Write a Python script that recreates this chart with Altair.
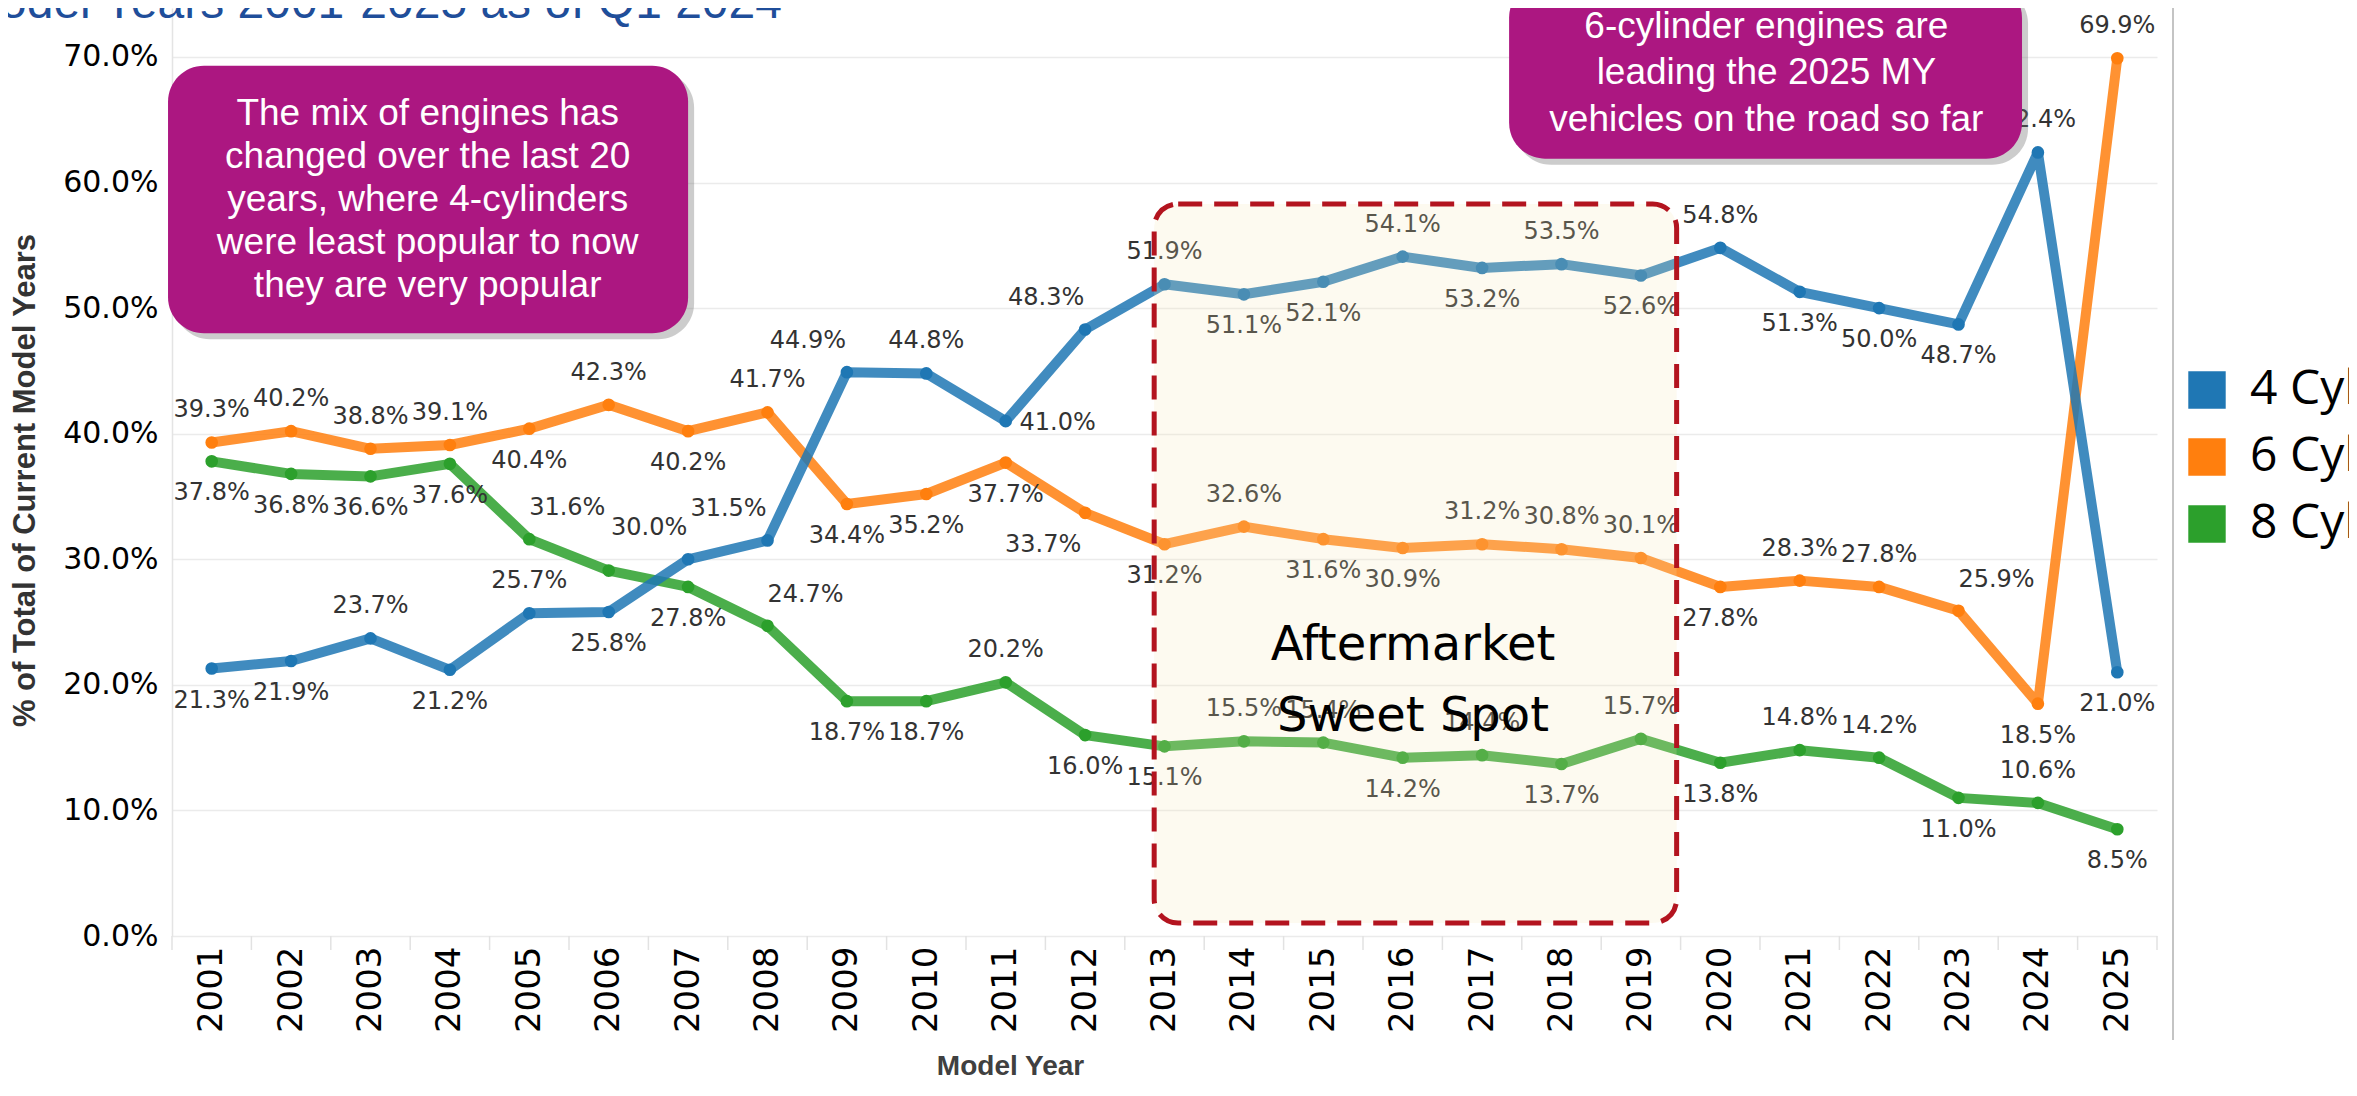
import altair as alt
import pandas as pd

# ---------------- data ----------------
years = [2001, 2002, 2003, 2004, 2005, 2006, 2007, 2008, 2009, 2010, 2011, 2012, 2013,
         2014, 2015, 2016, 2017, 2018, 2019, 2020, 2021, 2022, 2023, 2024, 2025]
series_names = ["4 Cyl", "6 Cyl", "8 Cyl"]
series_colors = ["#1F77B4", "#FF7F0E", "#2CA02C"]

cyl4 = [21.3, 21.9, 23.7, 21.2, 25.7, 25.8, 30.0, 31.5, 44.9, 44.8, 41.0, 48.3, 51.9,
        51.1, 52.1, 54.1, 53.2, 53.5, 52.6, 54.8, 51.3, 50.0, 48.7, 62.4, 21.0]
cyl6 = [39.3, 40.2, 38.8, 39.1, 40.4, 42.3, 40.2, 41.7, 34.4, 35.2, 37.7, 33.7, 31.2,
        32.6, 31.6, 30.9, 31.2, 30.8, 30.1, 27.8, 28.3, 27.8, 25.9, 18.5, 69.9]
cyl8 = [37.8, 36.8, 36.6, 37.6, 31.6, 29.1, 27.8, 24.7, 18.7, 18.7, 20.2, 16.0, 15.1,
        15.5, 15.4, 14.2, 14.4, 13.7, 15.7, 13.8, 14.8, 14.2, 11.0, 10.6, 8.5]

# where each value label sits relative to its point (A above, B below, L/R shifts, N hidden)
side4 = ["B", "B", "A", "B", "A", "B", "AL", "AL", "AL", "A", "R", "AL", "A",
         "B", "B", "A", "B", "A", "B", "A", "B", "B", "B", "A", "B"]
side6 = ["A", "A", "A", "A", "B", "A", "B", "A", "B", "B", "B", "BL", "B",
         "A", "B", "B", "A", "A", "A", "B", "A", "A", "AR", "B", "A"]
side8 = ["B", "B", "B", "B", "AR", "N", "B", "AR", "B", "B", "A", "B", "B",
         "A", "A", "B", "A", "B", "A", "B", "A", "A", "B", "A", "B"]

y_ticks = [0, 10, 20, 30, 40, 50, 60, 70]

title_text = "Model Years 2001-2025 as of Q1 2024"
y_title = "% of Total  of Current Model Years"
x_title = "Model Year"
note_left = ("The mix of engines has\nchanged over the last 20\nyears, where 4-cylinders\n"
             "were least popular to now\nthey are very popular")
note_right = "6-cylinder engines are\nleading the 2025 MY\nvehicles on the road so far"
sweet_text = "Aftermarket\nSweet Spot"

# ---------------- layout ----------------
W, H = 1985, 928
X0, X1 = 2000.5, 2025.5
Y0, Y1 = 0.0, 73.9
PXX = W / (X1 - X0)
PXY = H / (Y1 - Y0)

OFF = {"A": (0, -32), "B": (0, 32), "AL": (-39, -31), "AR": (38, -31),
       "BL": (-42, 32), "BR": (33, 32), "R": (52, 2)}

rows = []
for name, vals, sides in [("8 Cyl", cyl8, side8), ("6 Cyl", cyl6, side6), ("4 Cyl", cyl4, side4)]:
    for yr, v, s in zip(years, vals, sides):
        rows.append({"year": yr, "series": name, "value": v, "side": s})
df = pd.DataFrame(rows)

lab = df[df["side"] != "N"].copy()
lab["lx"] = [y + OFF[s][0] / PXX for y, s in zip(lab["year"], lab["side"])]
lab["ly"] = [v - OFF[s][1] / PXY for v, s in zip(lab["value"], lab["side"])]
lab["label"] = [f"{v:.1f}%" for v in lab["value"]]

xscale = alt.Scale(domain=[X0, X1], nice=False, zero=False)
yscale = alt.Scale(domain=[Y0, Y1], nice=False, zero=False)
cscale = alt.Scale(domain=series_names, range=series_colors)

xaxis = alt.Axis(values=years, format="d", labelAngle=270, labelFont="DejaVu Sans",
                 labelFontSize=34, labelColor="#000000", labelPadding=10, ticks=False,
                 domain=False, grid=False, labelOverlap=False, labelFlush=False,
                 title=x_title, titleFont="Liberation Sans", titleFontSize=28,
                 titleFontWeight="bold", titleColor="#404040", titleX=838, titleY=130,
                 titleAlign="center", titleBaseline="middle", titleAngle=0)
yaxis = alt.Axis(values=y_ticks, labelExpr="format(datum.value, '.1f') + '%'",
                 labelFont="DejaVu Sans", labelFontSize=30, labelColor="#000000",
                 labelPadding=14, ticks=False, domain=True, domainColor="#E4E4E4",
                 domainWidth=1.5, grid=True, gridColor="#EBEBEB", gridWidth=1.5,
                 title=y_title, titleFont="Liberation Sans", titleFontSize=31,
                 titleFontWeight="bold", titleColor="#333333", titleAngle=270,
                 titleX=-147, titleY=472, titleAlign="center", titleBaseline="middle")
legend = alt.Legend(title=None, orient="none", legendX=2011, legendY=358, symbolType="square",
                    symbolSize=1400, symbolStrokeWidth=0, symbolOpacity=1,
                    labelFont="Open Sans", labelFontSize=48,
                    labelColor="#000000", labelOffset=19, rowPadding=19, padding=0,
                    labelLimit=0)


def X(field):
    return alt.X(field, scale=xscale, axis=xaxis)


def Y(field):
    return alt.Y(field, scale=yscale, axis=yaxis)


base = alt.Chart(df)

lines = base.mark_line(strokeWidth=10, opacity=0.85, strokeCap="round",
                       strokeJoin="round").encode(
    x=X("year:Q"), y=Y("value:Q"),
    color=alt.Color("series:N", scale=cscale, legend=legend),
    detail="series:N",
)

points = base.mark_point(filled=True, size=160, opacity=1).encode(
    x=X("year:Q"), y=Y("value:Q"),
    color=alt.Color("series:N", scale=cscale, legend=legend),
)

labels = alt.Chart(lab).mark_text(font="DejaVu Sans", fontSize=24, color="#333333",
                                  align="center", baseline="middle").encode(
    x=X("lx:Q"), y=Y("ly:Q"), text="label:N",
)

# ---------------- annotations ----------------
sweet_box = pd.DataFrame({"x1": [2012.87], "x2": [2019.45], "y1": [58.3], "y2": [1.04]})
sweet = alt.Chart(sweet_box).mark_rect(fill="#F7E7B4", fillOpacity=0.2, stroke="#B3141F",
                                        strokeWidth=5, strokeDash=[24, 12],
                                        cornerRadius=24).encode(
    x=X("x1:Q"), x2="x2:Q", y=Y("y1:Q"), y2="y2:Q",
)
# y positions below are for the first line of each multi-line text
sweet_lbl = alt.Chart(pd.DataFrame({"x": [2016.13], "y": [23.1], "t": [sweet_text]})).mark_text(
    font="DejaVu Sans", fontSize=48, color="#000000", align="center", baseline="middle",
    lineBreak="\n", lineHeight=71).encode(x=X("x:Q"), y=Y("y:Q"), text="t:N")

notes_box = pd.DataFrame({"x1": [2000.45, 2017.34], "x2": [2007.0, 2023.8],
                          "y1": [69.3, 76.0], "y2": [48.0, 61.9]})
shadow = alt.Chart(notes_box).mark_rect(fill="#6E6E6E", opacity=0.35, cornerRadius=36,
                                         xOffset=6, x2Offset=6, yOffset=6, y2Offset=6).encode(
    x=X("x1:Q"), x2="x2:Q", y=Y("y1:Q"), y2="y2:Q",
)
notes = alt.Chart(notes_box).mark_rect(fill="#AC1781", cornerRadius=36).encode(
    x=X("x1:Q"), x2="x2:Q", y=Y("y1:Q"), y2="y2:Q",
)
note_l = alt.Chart(pd.DataFrame({"x": [2003.72], "y": [65.47], "t": [note_left]})).mark_text(
    font="Liberation Sans", fontSize=37, color="#FFFFFF", align="center", baseline="middle",
    lineBreak="\n", lineHeight=43).encode(x=X("x:Q"), y=Y("y:Q"), text="t:N")
note_r = alt.Chart(pd.DataFrame({"x": [2020.58], "y": [72.39], "t": [note_right]})).mark_text(
    font="Liberation Sans", fontSize=37, color="#FFFFFF", align="center", baseline="middle",
    lineBreak="\n", lineHeight=46.5).encode(x=X("x:Q"), y=Y("y:Q"), text="t:N")

title = alt.Chart(pd.DataFrame({"t": [title_text]})).mark_text(
    font="Liberation Sans", fontSize=48, color="#1F4E9A", align="left",
    baseline="alphabetic").encode(x=alt.value(-212), y=alt.value(10), text="t:N")

seps = alt.Chart(pd.DataFrame({"b": [y - 0.5 for y in years] + [years[-1] + 0.5]})).mark_rule(
    color="#E2E2E2", strokeWidth=1.5).encode(
    x=X("b:Q"), y=alt.value(H), y2=alt.value(H + 14))

divider = alt.Chart(pd.DataFrame({"k": [0]})).mark_rule(color="#C4C4C4", strokeWidth=2).encode(
    x=alt.value(2001), y=alt.value(0), y2=alt.value(1032))

chart = alt.layer(
    lines, points, labels, sweet, sweet_lbl, shadow, notes, note_l, note_r, title, seps, divider
).properties(
    width=W, height=H,
    autosize=alt.AutoSizeParams(type="none"),
    padding={"left": 164, "top": 0, "right": 192, "bottom": 144},
).configure_view(strokeWidth=0)

chart.save("out.html", embed_options={"renderer": "svg", "actions": False})
